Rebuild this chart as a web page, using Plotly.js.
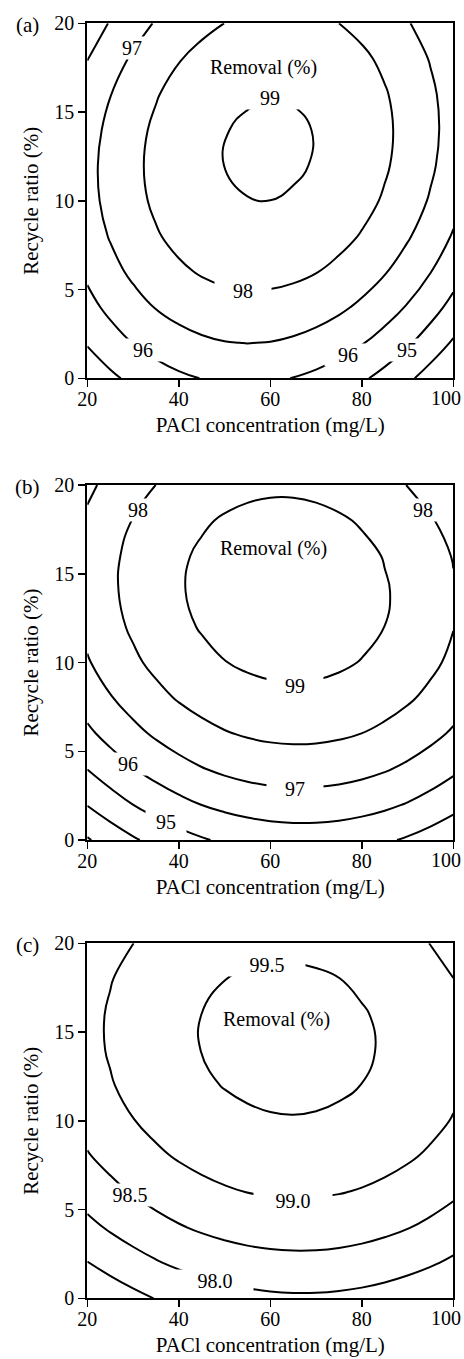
<!DOCTYPE html>
<html>
<head>
<meta charset="utf-8">
<script src="https://cdn.plot.ly/plotly-3.0.1.min.js"></script>
<style>
html,body{margin:0;padding:0;background:#fff;}
#chart{width:464px;height:1359px;}
</style>
</head>
<body>
<div id="chart"></div>
<script>
// PACl concentration (mg/L) grid
const pacl = [20,25,30,35,40,45,50,55,60,65,70,75,80,85,90,95,100];
// Recycle ratio (%) grid
const recycle = [0,2,4,6,8,10,12,14,16,18,20];

// Removal (%); rows follow recycle, columns follow pacl
const removalA = [
 [94.308,94.806,95.226,95.568,95.833,96.019,96.127,96.158,96.110,95.984,95.780,95.499,95.139,94.701,94.185,93.592,92.920],
 [95.077,95.587,96.020,96.375,96.652,96.850,96.971,97.014,96.979,96.865,96.674,96.405,96.058,95.632,95.129,94.548,93.889],
 [95.701,96.224,96.669,97.036,97.326,97.537,97.670,97.725,97.703,97.602,97.423,97.166,96.831,96.419,95.928,95.359,94.712],
 [96.179,96.715,97.172,97.552,97.854,98.077,98.223,98.291,98.280,98.192,98.026,97.782,97.459,97.059,96.581,96.024,95.390],
 [96.511,97.059,97.529,97.921,98.236,98.472,98.630,98.710,98.712,98.637,98.483,98.251,97.941,97.553,97.087,96.544,95.922],
 [96.697,97.258,97.740,98.145,98.472,98.720,98.891,98.984,98.998,98.935,98.794,98.574,98.277,97.902,97.448,96.917,96.308],
 [96.736,97.309,97.804,98.221,98.561,98.822,99.005,99.110,99.137,99.086,98.957,98.751,98.466,98.103,97.662,97.143,96.546],
 [96.630,97.216,97.723,98.153,98.505,98.778,98.974,99.091,99.131,99.093,98.976,98.782,98.510,98.159,97.731,97.224,96.640],
 [96.378,96.976,97.496,97.938,98.303,98.589,98.797,98.927,98.979,98.953,98.849,98.667,98.407,98.069,97.654,97.160,96.588],
 [95.980,96.591,97.123,97.578,97.955,98.253,98.474,98.616,98.681,98.667,98.576,98.407,98.159,97.834,97.430,96.949,96.390],
 [95.436,96.059,96.604,97.071,97.460,97.772,98.005,98.160,98.237,98.236,98.157,98.000,97.765,97.452,97.061,96.592,96.045]
];

// Removal (%)
const removalB = [
 [92.909,93.425,93.883,94.283,94.626,94.912,95.140,95.310,95.423,95.479,95.477,95.417,95.300,95.126,94.894,94.604,94.257],
 [94.043,94.552,95.005,95.399,95.737,96.016,96.239,96.403,96.510,96.560,96.552,96.487,96.364,96.184,95.946,95.651,95.298],
 [95.011,95.515,95.962,96.351,96.682,96.956,97.173,97.332,97.433,97.477,97.464,97.393,97.264,97.078,96.834,96.533,96.175],
 [95.813,96.311,96.752,97.135,97.461,97.729,97.940,98.093,98.189,98.227,98.208,98.131,97.997,97.805,97.556,97.249,96.885],
 [96.450,96.943,97.378,97.756,98.075,98.338,98.543,98.690,98.780,98.813,98.788,98.705,98.565,98.368,98.113,97.800,97.430],
 [96.923,97.410,97.839,98.211,98.525,98.782,98.981,99.123,99.207,99.234,99.203,99.115,98.969,98.766,98.505,98.187,97.811],
 [97.230,97.711,98.134,98.500,98.809,99.060,99.253,99.389,99.468,99.489,99.452,99.358,99.206,98.997,98.731,98.407,98.025],
 [97.371,97.847,98.264,98.625,98.927,99.173,99.360,99.490,99.563,99.578,99.536,99.436,99.279,99.064,98.792,98.462,98.075],
 [97.347,97.817,98.229,98.583,98.880,99.120,99.302,99.426,99.493,99.503,99.455,99.349,99.186,98.966,98.688,98.352,97.959],
 [97.158,97.622,98.028,98.377,98.668,98.902,99.078,99.197,99.258,99.262,99.208,99.097,98.928,98.702,98.418,98.077,97.678],
 [96.803,97.261,97.661,98.004,98.290,98.518,98.688,98.801,98.857,98.855,98.795,98.678,98.504,98.272,97.982,97.635,97.231]
];

// Removal (%)
const removalC = [
 [97.031,97.212,97.374,97.515,97.635,97.736,97.816,97.875,97.915,97.934,97.933,97.911,97.870,97.808,97.725,97.623,97.520],
 [97.486,97.666,97.825,97.964,98.083,98.181,98.259,98.317,98.355,98.372,98.369,98.345,98.302,98.238,98.153,98.049,97.924],
 [97.877,98.055,98.212,98.349,98.466,98.563,98.639,98.695,98.730,98.745,98.740,98.715,98.669,98.603,98.517,98.411,98.284],
 [98.203,98.379,98.534,98.669,98.784,98.879,98.953,99.007,99.041,99.054,99.047,99.020,98.972,98.904,98.816,98.707,98.579],
 [98.466,98.640,98.793,98.926,99.039,99.132,99.204,99.256,99.288,99.299,99.290,99.261,99.211,99.141,99.051,98.941,98.810],
 [98.665,98.836,98.988,99.119,99.230,99.321,99.391,99.441,99.471,99.480,99.469,99.438,99.386,99.315,99.223,99.110,98.977],
 [98.799,98.969,99.118,99.248,99.357,99.445,99.514,99.562,99.589,99.597,99.584,99.551,99.497,99.424,99.330,99.215,99.081],
 [98.869,99.037,99.185,99.312,99.419,99.506,99.572,99.618,99.644,99.650,99.635,99.600,99.544,99.469,99.373,99.256,99.120],
 [98.874,99.040,99.186,99.311,99.416,99.501,99.565,99.610,99.633,99.637,99.620,99.583,99.526,99.448,99.350,99.232,99.093],
 [98.816,98.980,99.124,99.247,99.350,99.433,99.496,99.538,99.560,99.561,99.543,99.504,99.444,99.365,99.265,99.145,99.004],
 [98.694,98.856,98.997,99.119,99.220,99.301,99.361,99.402,99.422,99.421,99.401,99.360,99.299,99.217,99.115,98.993,98.851]
];

// contour levels per panel
const levelsA = [94, 99, 1];
const levelsB = [93, 99, 1];
const levelsC = [97.5, 99.5, 0.5];

// tick labels
const xTicks = [20, 40, 60, 80, 100];
const xTickText = ['20', '40', '60', '80', '100'];
const yTicks = [0, 5, 10, 15, 20];
const yTickText = ['0', '5', '10', '15', '20'];
const panelTags = ['(a)', '(b)', '(c)'];
const xTitle = 'PACl concentration (mg/L)';
const yTitle = 'Recycle ratio (%)';
const insideTitle = 'Removal (%)';

// contour line label texts
const labelTextA = ['97', '99', '98', '96', '96', '95'];
const labelTextB = ['98', '98', '99', '96', '97', '95'];
const labelTextC = ['99.5', '98.5', '99.0', '98.0'];

const SERIF = '"Liberation Serif", "DejaVu Serif", serif';
const W = 464, H = 1359;
const plotLeft = 87.3, plotRight = 453.3;
const tops = [23.3, 485, 943.3], bottoms = [378.3, 840, 1298.3];

function contour(z, lv, idx) {
  const s = idx === 0 ? '' : String(idx + 1);
  return {
    type: 'contour', x: pacl, y: recycle, z: z,
    xaxis: 'x' + s, yaxis: 'y' + s,
    contours: {coloring: 'none', start: lv[0], end: lv[1], size: lv[2], showlabels: false},
    line: {color: '#000', width: 2, smoothing: 1.3},
    showscale: false, hoverinfo: 'skip'
  };
}

const data = [contour(removalA, levelsA, 0), contour(removalB, levelsB, 1), contour(removalC, levelsC, 2)];

const layout = {
  width: W, height: H,
  margin: {l: 0, r: 0, t: 0, b: 0},
  paper_bgcolor: '#fff', plot_bgcolor: '#fff',
  showlegend: false,
  font: {family: SERIF, color: '#000', size: 20},
  annotations: []
};

// the last x tick label sits against the right page edge, so it is written as an annotation
const lastIdx = xTickText.length - 1;

for (let i = 0; i < 3; i++) {
  const s = i === 0 ? '' : String(i + 1);
  layout['xaxis' + s] = {
    domain: [plotLeft / W, plotRight / W], anchor: 'y' + s,
    range: [20, 100], tickvals: xTicks,
    ticktext: xTickText.map((t, k) => k === lastIdx ? '' : t),
    ticks: 'outside', ticklen: 7, tickwidth: 1.5, tickcolor: '#000',
    ticklabelstandoff: -5,
    showline: true, linecolor: '#000', linewidth: 2, mirror: true,
    showgrid: false, zeroline: false,
    tickfont: {family: SERIF, size: 20, color: '#000'},
    title: {text: xTitle, font: {family: SERIF, size: 21, color: '#000'}, standoff: 8}
  };
  layout['yaxis' + s] = {
    domain: [1 - bottoms[i] / H, 1 - tops[i] / H], anchor: 'x' + s,
    range: [0, 20], tickvals: yTicks, ticktext: yTickText,
    ticks: 'outside', ticklen: 7, tickwidth: 1.5, tickcolor: '#000',
    showline: true, linecolor: '#000', linewidth: 2, mirror: true,
    showgrid: false, zeroline: false,
    tickfont: {family: SERIF, size: 20, color: '#000'},
    title: {text: yTitle, font: {family: SERIF, size: 21, color: '#000'}, standoff: 10}
  };
  layout.annotations.push({
    xref: 'paper', yref: 'paper', x: 27 / W, y: 1 - (tops[i] + 2) / H,
    xanchor: 'center', yanchor: 'middle', showarrow: false,
    text: panelTags[i], font: {family: SERIF, size: 21, color: '#000'}
  });
  layout.annotations.push({
    xref: 'paper', yref: 'paper', x: 463 / W, y: 1 - (bottoms[i] + 20) / H,
    xanchor: 'right', yanchor: 'middle', showarrow: false,
    text: xTickText[lastIdx], font: {family: SERIF, size: 20, color: '#000'}
  });
}

function lineLabel(text, x, y, idx, w) {
  const s = idx === 0 ? '' : String(idx + 1);
  return {
    xref: 'x' + s, yref: 'y' + s, x: x, y: y, text: text, showarrow: false,
    xanchor: 'center', yanchor: 'middle', bgcolor: '#fff', width: w, height: 22,
    borderpad: 0, font: {family: SERIF, size: 20, color: '#000'}
  };
}
function plainLabel(text, x, y, idx) {
  const s = idx === 0 ? '' : String(idx + 1);
  return {
    xref: 'x' + s, yref: 'y' + s, x: x, y: y, text: text, showarrow: false,
    xanchor: 'center', yanchor: 'middle', font: {family: SERIF, size: 20, color: '#000'}
  };
}

// panel (a)
const posA = [[29.7, 18.6, 36], [59.9, 15.8, 56], [54.1, 4.9, 56], [32.2, 1.6, 44], [77.0, 1.3, 46], [89.8, 1.6, 40]];
labelTextA.forEach((t, k) => layout.annotations.push(lineLabel(t, posA[k][0], posA[k][1], 0, posA[k][2])));
layout.annotations.push(plainLabel(insideTitle, 58.5, 17.5, 0));

// panel (b)
const posB = [[31.1, 18.6, 36], [93.4, 18.6, 36], [65.4, 8.7, 56], [29.0, 4.3, 40], [65.4, 2.9, 56], [37.3, 1.0, 40]];
labelTextB.forEach((t, k) => layout.annotations.push(lineLabel(t, posB[k][0], posB[k][1], 1, posB[k][2])));
layout.annotations.push(plainLabel(insideTitle, 60.7, 16.4, 1));

// panel (c)
const posC = [[59.2, 18.8, 76], [29.3, 5.8, 48], [65.0, 5.5, 78], [47.9, 1.0, 76]];
labelTextC.forEach((t, k) => layout.annotations.push(lineLabel(t, posC[k][0], posC[k][1], 2, posC[k][2])));
layout.annotations.push(plainLabel(insideTitle, 61.4, 15.7, 2));

Plotly.newPlot('chart', data, layout, {staticPlot: true, displayModeBar: false});
</script>
</body>
</html>
